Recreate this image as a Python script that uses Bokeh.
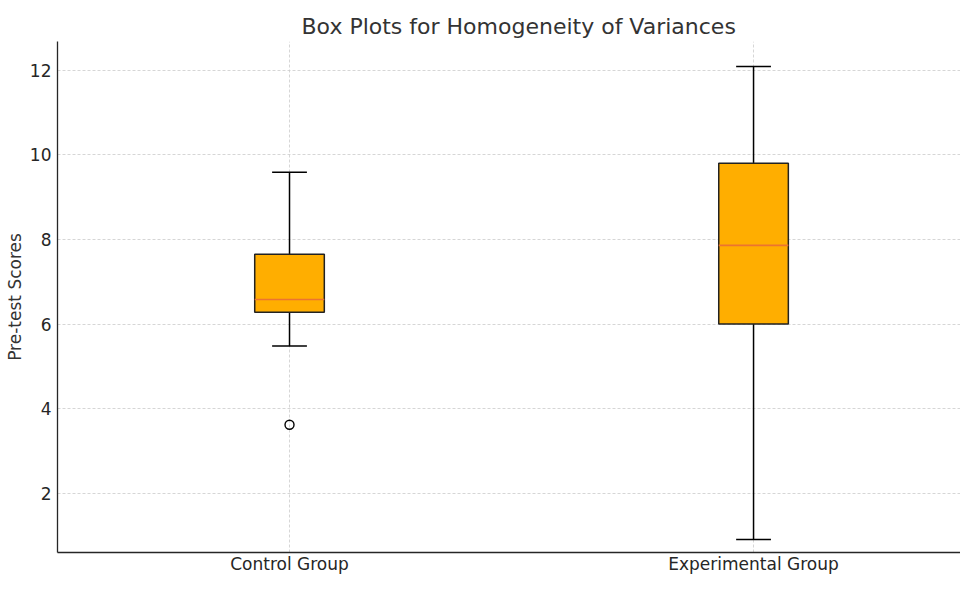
from bokeh.plotting import figure
from bokeh.models import Range1d, FixedTicker, ColumnDataSource
from bokeh.embed import file_html
from bokeh.resources import INLINE

# ---- data ----
groups = ["Control Group", "Experimental Group"]
whisker_low = [5.48, 0.91]
q1 = [6.28, 6.00]
median = [6.58, 7.86]
q3 = [7.65, 9.80]
whisker_high = [9.59, 12.09]
outlier_group = ["Control Group"]
outlier_value = [3.62]
y_ticks = [2, 4, 6, 8, 10, 12]

pos = list(range(1, len(groups) + 1))
box_w = 0.15
cap_w = box_w / 2

src = ColumnDataSource(dict(
    x=pos, lo=whisker_low, q1=q1, med=median, q3=q3, hi=whisker_high,
    x0=[p - box_w / 2 for p in pos], x1=[p + box_w / 2 for p in pos],
    c0=[p - cap_w / 2 for p in pos], c1=[p + cap_w / 2 for p in pos],
))
out_src = ColumnDataSource(dict(
    x=[pos[groups.index(g)] for g in outlier_group], y=outlier_value))

FONT = "DejaVu Sans"

p = figure(width=960, height=576, output_backend="svg", toolbar_location=None,
           x_range=Range1d(0.5, 2.446), y_range=Range1d(0.60, 12.68),
           min_border_left=57, min_border_right=0, min_border_top=41,
           min_border_bottom=16, title="Box Plots for Homogeneity of Variances")
p.outline_line_color = None
p.background_fill_color = "white"
p.border_fill_color = "white"

p.title.align = "left"
p.title.offset = 244
p.title.text_font = FONT
p.title.text_font_size = "22px"
p.title.text_font_style = "normal"
p.title.text_color = "#333333"
p.title.standoff = 6

# axes
p.xaxis.ticker = FixedTicker(ticks=pos)
p.xaxis.major_label_overrides = {pos[i]: g for i, g in enumerate(groups)}
p.yaxis.ticker = FixedTicker(ticks=y_ticks)
p.yaxis.axis_label = "Pre-test Scores"
for ax in (p.xaxis, p.yaxis):
    ax.major_tick_out = 0
    ax.major_tick_in = 0
    ax.minor_tick_out = 0
    ax.minor_tick_in = 0
    ax.axis_line_color = "#262626"
    ax.axis_line_width = 1.3
    ax.major_label_text_font = FONT
    ax.major_label_text_font_size = "17px"
    ax.major_label_text_color = "#262626"
    ax.axis_label_text_font = FONT
    ax.axis_label_text_font_size = "17px"
    ax.axis_label_text_font_style = "normal"
    ax.axis_label_text_color = "#333333"
p.xaxis.major_label_standoff = 1
p.yaxis.major_label_standoff = 6
p.yaxis.axis_label_standoff = 2

for g in (p.xgrid, p.ygrid):
    g.grid_line_color = "#cccccc"
    g.grid_line_dash = "3 2"
    g.grid_line_width = 0.8

# whiskers
p.segment(x0="x", y0="lo", x1="x", y1="q1", source=src, line_color="black", line_width=1.5)
p.segment(x0="x", y0="q3", x1="x", y1="hi", source=src, line_color="black", line_width=1.5)
# caps
p.segment(x0="c0", y0="lo", x1="c1", y1="lo", source=src, line_color="black", line_width=1.5)
p.segment(x0="c0", y0="hi", x1="c1", y1="hi", source=src, line_color="black", line_width=1.5)
# boxes
p.quad(left="x0", right="x1", bottom="q1", top="q3", source=src,
       fill_color="#FFAE00", line_color="#222222", line_width=1.5)
# medians
p.segment(x0="x0", y0="med", x1="x1", y1="med", source=src, line_color="#EC7430", line_width=1.6)
# outliers
p.scatter(x="x", y="y", source=out_src, marker="circle", size=9,
          fill_color=None, line_color="black", line_width=1.4)

open("out.html", "w").write(file_html(p, INLINE))
